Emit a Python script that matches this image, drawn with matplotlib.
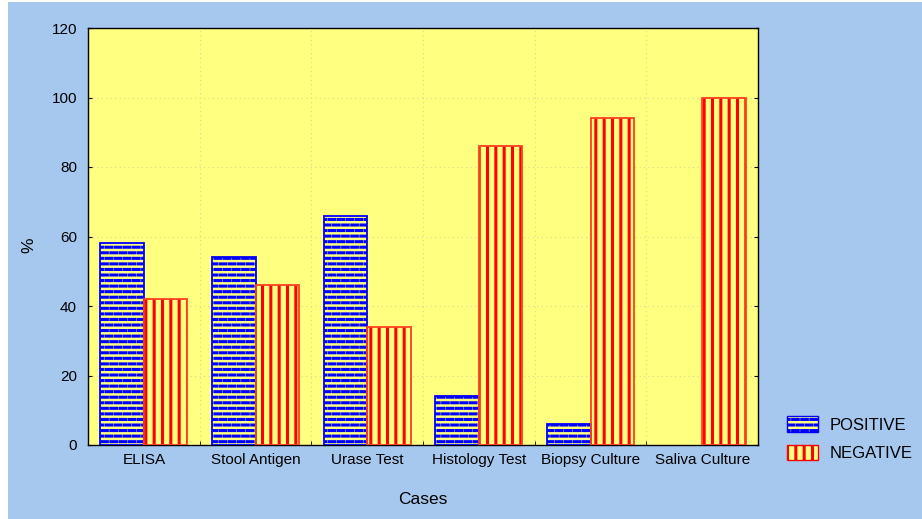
import matplotlib
matplotlib.use("Agg")
import matplotlib.pyplot as plt
from matplotlib import hatch as mhatch
from matplotlib.path import Path
from matplotlib.patches import Rectangle, Patch
import numpy as np

categories = ["ELISA", "Stool Antigen", "Urase Test", "Histology Test",
              "Biopsy Culture", "Saliva Culture"]
positive = [58, 54, 66, 14, 6, 0]
negative = [42, 46, 34, 86, 94, 100]
yticks = [0, 20, 40, 60, 80, 100, 120]

BG = "#A6C8EE"
PLOT_BG = "#FFFF80"
BLUE = "#0000FF"
RED = "#FF0000"


class BrickHatch(mhatch.HatchPatternBase):
    """Staggered rows of short dashes, selected with the '.' hatch character."""
    ROWS = 18
    PER_ROW = 11
    FILL = 0.62

    def __init__(self, hatch, density):
        self.segments = []
        if hatch.count("."):
            period = 1.0 / self.PER_ROW
            length = period * self.FILL
            for r in range(self.ROWS):
                y = (r + 0.5) / self.ROWS
                off = period / 2 if r % 2 else 0.0
                for k in range(self.PER_ROW):
                    x0 = (k * period + off + (period - length) / 2) % 1.0
                    x1 = x0 + length
                    if x1 <= 1.0:
                        self.segments.append((x0, x1, y))
                    else:
                        self.segments.append((x0, 1.0, y))
                        self.segments.append((0.0, x1 - 1.0, y))
        self.num_vertices = 2 * len(self.segments)

    def set_vertices_and_codes(self, vertices, codes):
        for i, (x0, x1, y) in enumerate(self.segments):
            vertices[2 * i] = (x0, y)
            vertices[2 * i + 1] = (x1, y)
            codes[2 * i] = Path.MOVETO
            codes[2 * i + 1] = Path.LINETO


mhatch._hatch_types[:] = [t for t in mhatch._hatch_types
                          if t is not mhatch.SmallFilledCircles] + [BrickHatch]

plt.rcParams["font.family"] = ["Liberation Sans", "DejaVu Sans"]
plt.rcParams["hatch.linewidth"] = 2.2

fig = plt.figure(figsize=(9.22, 5.19), dpi=100, facecolor="white")
fig.patches.append(Rectangle((8 / 922, 0), 1, 517 / 519, transform=fig.transFigure,
                             facecolor=BG, edgecolor="none", zorder=-10))
ax = fig.add_axes([88 / 922, 74 / 519, 670 / 922, 417 / 519])
ax.set_facecolor(PLOT_BG)

x = np.arange(len(categories))
w = 0.39

# positive: staggered blue dashes on yellow
ax.bar(x - w / 2, positive, w, facecolor=PLOT_BG, edgecolor=BLUE, hatch=".",
       linewidth=0, zorder=3)
ax.bar(x - w / 2, positive, w, fill=False, edgecolor=BLUE,
       linewidth=[1.3 if v > 0 else 0 for v in positive], zorder=4)
# negative: red vertical stripes on yellow
ax.bar(x + w / 2, negative, w, facecolor=PLOT_BG, edgecolor=RED, hatch="||",
       linewidth=0, zorder=3)
ax.bar(x + w / 2, negative, w, fill=False, edgecolor="#FF4020",
       linewidth=[1.3 if v > 0 else 0 for v in negative], zorder=4)

ax.set_xlim(-0.5, len(categories) - 0.5)
ax.set_ylim(0, 120)
ax.set_yticks(yticks)
ax.set_yticklabels([str(v) for v in yticks], fontsize=11)
ax.set_xticks(x)
ax.set_xticklabels(categories, fontsize=11)
ax.set_xticks(np.arange(len(categories) + 1) - 0.5, minor=True)
ax.tick_params(axis="x", which="major", length=0, pad=6)
ax.tick_params(axis="x", which="minor", direction="in", length=3, top=False)
ax.tick_params(axis="y", which="major", direction="in", length=3, right=True, pad=8)

ax.grid(axis="y", which="major", linestyle=(0, (1, 3)), color="#D8D890", linewidth=0.8, zorder=1)
ax.grid(axis="x", which="minor", linestyle=(0, (1, 3)), color="#D8D890", linewidth=0.8, zorder=1)
ax.set_axisbelow(True)
for s in ax.spines.values():
    s.set_color("black")
    s.set_linewidth(1.0)

ax.set_xlabel("Cases", fontsize=12.5)
ax.xaxis.set_label_coords(0.5, -(500 - 445) / 417, transform=ax.transAxes)
ax.xaxis.label.set_va("center")
ax.set_ylabel("%", fontsize=12.5)
ax.yaxis.set_label_coords(-(88 - 29) / 670, (445 - 245) / 417, transform=ax.transAxes)
ax.yaxis.label.set_va("center")

handles = [Patch(facecolor=PLOT_BG, edgecolor=BLUE, hatch="."),
           Patch(facecolor=PLOT_BG, edgecolor=RED, hatch="||")]
leg = fig.legend(handles, ["POSITIVE", "NEGATIVE"], loc="center left",
                 bbox_to_anchor=(787 / 922, 1 - 438.5 / 519), frameon=False,
                 borderaxespad=0, borderpad=0,
                 fontsize=12, handlelength=1.85, handleheight=1.05,
                 handletextpad=0.7, labelspacing=0.72)

fig.savefig("out.png", dpi=100, facecolor=fig.get_facecolor())
